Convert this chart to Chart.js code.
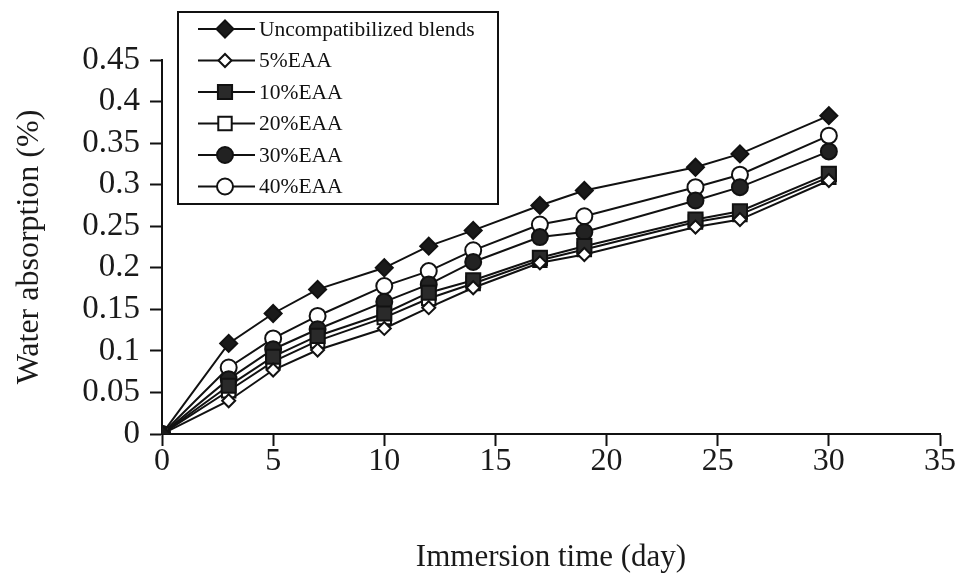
<!DOCTYPE html>
<html>
<head>
<meta charset="utf-8">
<title>Water absorption vs immersion time</title>
<script src="https://cdn.jsdelivr.net/npm/chart.js@4.4.1/dist/chart.umd.min.js"></script>
<style>
  html, body { margin: 0; padding: 0; background: #fff; }
  #wrap { width: 964px; height: 576px; position: relative; }
</style>
</head>
<body>
<div id="wrap"><canvas id="absorption"></canvas></div>
<script>
// immersion days and water uptake (%) per blend
var days = [0, 3, 5, 7, 10, 12, 14, 17, 19, 24, 26, 30];
var uncompatibilized = [0, 0.109, 0.145, 0.174, 0.200, 0.226, 0.245, 0.275, 0.293, 0.321, 0.337, 0.383];
var eaa5  = [0, 0.040, 0.077, 0.101, 0.127, 0.152, 0.176, 0.206, 0.216, 0.249, 0.258, 0.305];
var eaa10 = [0, 0.058, 0.093, 0.118, 0.145, 0.170, 0.185, 0.212, 0.226, 0.258, 0.268, 0.313];
var eaa20 = [0, 0.052, 0.087, 0.112, 0.140, 0.163, 0.181, 0.209, 0.222, 0.255, 0.264, 0.309];
var eaa30 = [0, 0.066, 0.102, 0.126, 0.159, 0.180, 0.207, 0.237, 0.243, 0.281, 0.297, 0.340];
var eaa40 = [0, 0.080, 0.115, 0.142, 0.178, 0.196, 0.221, 0.252, 0.262, 0.297, 0.312, 0.359];

var seriesNames = ['Uncompatibilized blends', '5%EAA', '10%EAA', '20%EAA', '30%EAA', '40%EAA'];
var xTicks = [0, 5, 10, 15, 20, 25, 30, 35];
var yTicks = [0, 0.05, 0.1, 0.15, 0.2, 0.25, 0.3, 0.35, 0.4, 0.45];

var serif = "'Liberation Serif', 'DejaVu Serif', serif";

function pairs(values) {
	return days.map(function (d, i) { return { x: d, y: values[i] }; });
}

// marker look for each series, same order as seriesNames
var markers = [
	{ style: 'rectRot', radius: 8.5, fill: '#1a1a1a' },
	{ style: 'rectRot', radius: 6.5, fill: '#ffffff' },
	{ style: 'rect',    radius: 10,  fill: '#2a2a2a' },
	{ style: 'rect',    radius: 9.5, fill: '#ffffff' },
	{ style: 'circle',  radius: 8,   fill: '#222222' },
	{ style: 'circle',  radius: 8,   fill: '#ffffff' }
];

var allValues = [uncompatibilized, eaa5, eaa10, eaa20, eaa30, eaa40];

var datasets = allValues.map(function (vals, i) {
	return {
		label: seriesNames[i],
		data: pairs(vals),
		borderColor: '#111',
		borderWidth: 2,
		pointStyle: markers[i].style,
		pointRadius: markers[i].radius,
		pointBackgroundColor: markers[i].fill,
		pointBorderColor: '#111',
		pointBorderWidth: 2,
		tension: 0,
		fill: false
	};
});

// boxed legend with a line + marker sample for each series
var boxLegend = {
	id: 'boxLegend',
	afterDraw: function (chart) {
		var ctx = chart.ctx;
		var left = 178, top = 12, w = 320, h = 192;
		ctx.save();
		ctx.fillStyle = '#fff';
		ctx.fillRect(left, top, w, h);
		ctx.strokeStyle = '#111';
		ctx.lineWidth = 2;
		ctx.strokeRect(left, top, w, h);

		ctx.font = '21.5px ' + serif;
		ctx.textBaseline = 'middle';
		ctx.textAlign = 'left';
		chart.data.datasets.forEach(function (ds, i) {
			var y = top + 17 + i * 31.5;
			ctx.strokeStyle = '#111';
			ctx.lineWidth = 2;
			ctx.beginPath();
			ctx.moveTo(left + 20, y);
			ctx.lineTo(left + 77, y);
			ctx.stroke();
			ctx.fillStyle = ds.pointBackgroundColor;
			Chart.helpers.drawPoint(ctx, {
				pointStyle: ds.pointStyle,
				radius: ds.pointRadius,
				borderWidth: 2,
				rotation: 0
			}, left + 47, y);
			ctx.fillStyle = '#111';
			ctx.fillText(ds.label, left + 81, y + 1);
		});
		ctx.restore();
	}
};

new Chart(document.getElementById('absorption'), {
	type: 'line',
	data: { datasets: datasets },
	plugins: [boxLegend],
	options: {
		responsive: true,
		maintainAspectRatio: false,
		animation: false,
		layout: { padding: { top: 60, right: 24, left: 0, bottom: 0 } },
		plugins: {
			legend: { display: false },
			tooltip: { enabled: false }
		},
		scales: {
			x: {
				type: 'linear',
				min: 0,
				max: 35,
				afterBuildTicks: function (scale) {
					scale.ticks = xTicks.map(function (v) { return { value: v }; });
				},
				afterFit: function (scale) { scale.height = 142; },
				grid: { drawOnChartArea: false, drawTicks: true, tickLength: 12, tickWidth: 2, color: '#111' },
				border: { color: '#111', width: 2 },
				ticks: { color: '#1a1a1a', padding: -4, maxRotation: 0, autoSkip: false, font: { family: serif, size: 32 } },
				title: {
					display: true,
					text: 'Immersion time (day)',
					color: '#1a1a1a',
					font: { family: serif, size: 31 },
					padding: { top: 42, bottom: 0 }
				}
			},
			y: {
				min: 0,
				max: 0.45,
				afterBuildTicks: function (scale) {
					scale.ticks = yTicks.map(function (v) { return { value: v }; });
				},
				afterFit: function (scale) { scale.width = 162; },
				grid: { drawOnChartArea: false, drawTicks: true, tickLength: 12, tickWidth: 2, color: '#111' },
				border: { color: '#111', width: 2 },
				ticks: {
					color: '#1a1a1a',
					padding: 10,
					autoSkip: false,
					font: { family: serif, size: 33 },
					callback: function (v) { return String(Number(v.toFixed(2))); }
				},
				title: {
					display: true,
					text: 'Water absorption (%)',
					color: '#1a1a1a',
					font: { family: serif, size: 32 },
					padding: { top: 10, bottom: 0 }
				}
			}
		}
	}
});
</script>
</body>
</html>
